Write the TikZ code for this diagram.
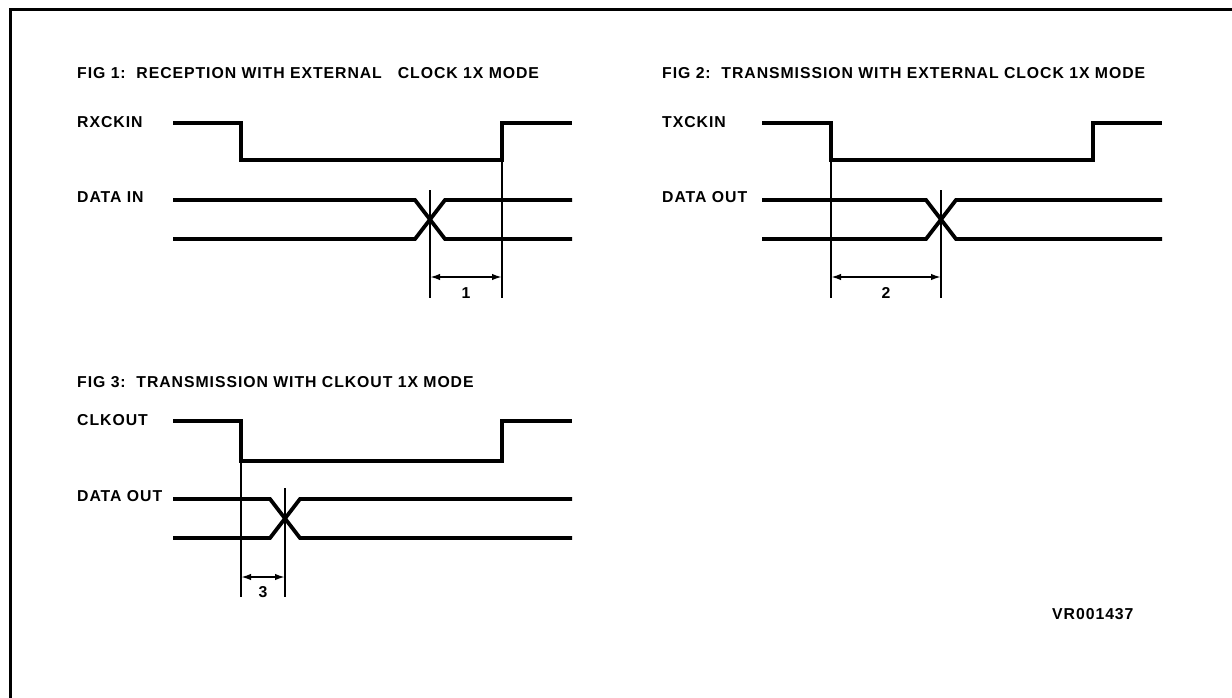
\documentclass[tikz,border=0pt]{standalone}
\usepackage{fontspec}
\newfontfamily\plotfont[LetterSpace=6]{Liberation Sans}
\usetikzlibrary{arrows.meta}
\begin{document}
\begin{tikzpicture}[x=1pt,y=-1pt,
  sig/.style={line width=3.8pt,line join=miter},
  thin/.style={line width=1.8pt},
  dim/.style={line width=1.8pt,{Latex[length=10pt,width=6.5pt]}-{Latex[length=10pt,width=6.5pt]}},
  lbl/.style={font=\plotfont\bfseries\fontsize{15.8}{18}\selectfont,inner sep=0pt,anchor=west},
  num/.style={font=\plotfont\bfseries\fontsize{15.8}{18}\selectfont,inner sep=0pt}]
\useasboundingbox (0,0) rectangle (1232,698);
\fill[white] (0,0) rectangle (1232,698);
% frame
\draw[line width=3pt] (10,698) -- (10,10) -- (1232,10);
% ---------- FIG 1 ----------
\node[lbl] (t1) at (77,73) {FIG 1:\ \ RECEPTION WITH EXTERNAL\ \ \ CLOCK 1X MODE};
\node[lbl] (l1a) at (77,122) {RXCKIN};
\node[lbl] (l1b) at (77,197) {DATA IN};
\draw[sig] (173,123) -- (241,123) -- (241,160) -- (502,160) -- (502,123) -- (572,123);
\draw[sig] (173,200) -- (415,200) -- (445,239) -- (572,239);
\draw[sig] (173,239) -- (415,239) -- (445,200) -- (572,200);
\draw[thin] (430,190) -- (430,298);
\draw[thin] (502,160) -- (502,298);
\draw[dim] (430,277) -- (502,277);
\node[num] (n1) at (466,293) {1};
% ---------- FIG 2 ----------
\node[lbl] (t2) at (662,73) {FIG 2:\ \ TRANSMISSION WITH EXTERNAL CLOCK 1X MODE};
\node[lbl] (l2a) at (662,122) {TXCKIN};
\node[lbl] (l2b) at (662,197) {DATA OUT};
\draw[sig] (762,123) -- (831,123) -- (831,160) -- (1093,160) -- (1093,123) -- (1162,123);
\draw[sig] (762,200) -- (926,200) -- (956,239) -- (1162,239);
\draw[sig] (762,239) -- (926,239) -- (956,200) -- (1162,200);
\draw[thin] (831,160) -- (831,298);
\draw[thin] (941,190) -- (941,298);
\draw[dim] (831,277) -- (941,277);
\node[num] (n2) at (886,293) {2};
% ---------- FIG 3 ----------
\node[lbl] (t3) at (77,382) {FIG 3:\ \ TRANSMISSION WITH CLKOUT 1X MODE};
\node[lbl] (l3a) at (77,420) {CLKOUT};
\node[lbl] (l3b) at (77,496) {DATA OUT};
\draw[sig] (173,421) -- (241,421) -- (241,461) -- (502,461) -- (502,421) -- (572,421);
\draw[sig] (173,499) -- (270,499) -- (300,538) -- (572,538);
\draw[sig] (173,538) -- (270,538) -- (300,499) -- (572,499);
\draw[thin] (241,461) -- (241,597);
\draw[thin] (285,488) -- (285,597);
\draw[dim] (241,577) -- (285,577);
\node[num] (n3) at (263,592) {3};
% ---------- ref ----------
\node[lbl] (ref) at (1052,614) {VR001437};
\end{tikzpicture}
\end{document}
